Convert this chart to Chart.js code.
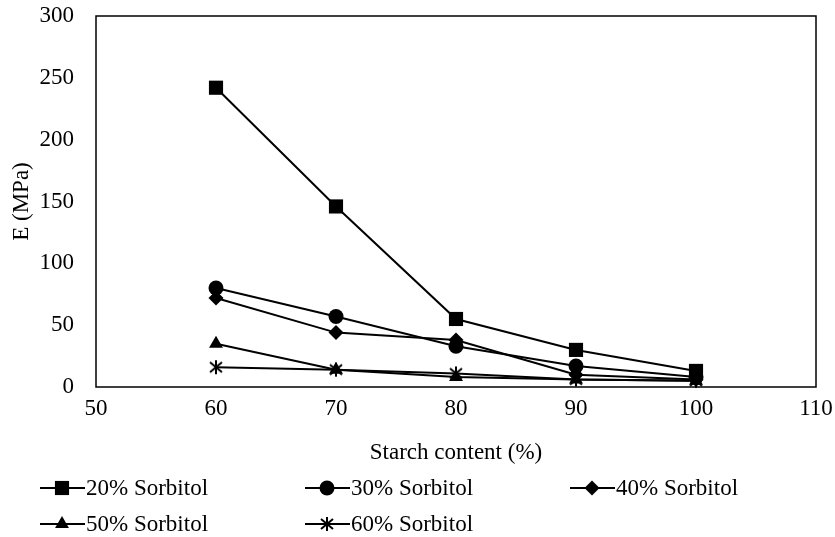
<!DOCTYPE html>
<html>
<head>
<meta charset="utf-8">
<script src="https://cdn.jsdelivr.net/npm/chart.js@4.4.1/dist/chart.umd.min.js"></script>
<style>
  html, body { margin: 0; padding: 0; background: #fff; }
  #wrap { width: 835px; height: 537px; position: relative; }
</style>
</head>
<body>
<div id="wrap"><canvas id="chart"></canvas></div>
<script>
const starch = [60, 70, 80, 90, 100];
const sorb20 = [242, 146, 55, 30, 13];
const sorb30 = [80, 57, 33, 17, 8];
const sorb40 = [72, 44, 38, 10, 6];
const sorb50 = [35, 14, 8, 6, 5];
const sorb60 = [16, 14, 11, 6, 5];
const seriesNames = ["20% Sorbitol", "30% Sorbitol", "40% Sorbitol", "50% Sorbitol", "60% Sorbitol"];

const serif = "'Liberation Serif', 'Times New Roman', serif";
const fontSize = 23;

// excel style asterisk marker: an X with a vertical bar
function makeAsterisk() {
  const c = document.createElement("canvas");
  c.width = 16; c.height = 16;
  const g = c.getContext("2d");
  g.strokeStyle = "#000";
  g.lineWidth = 2;
  g.beginPath();
  g.moveTo(8, 1); g.lineTo(8, 15);
  g.moveTo(2, 3); g.lineTo(14, 13);
  g.moveTo(2, 13); g.lineTo(14, 3);
  g.stroke();
  return c;
}
const asterisk = makeAsterisk();

function pts(vals) {
  return starch.map((x, i) => ({ x: x, y: vals[i] }));
}

const styles = [
  { pointStyle: "rect", radius: 10 },
  { pointStyle: "circle", radius: 7.5 },
  { pointStyle: "rectRot", radius: 7.5 },
  { pointStyle: "triangle", radius: 8 },
  { pointStyle: asterisk, radius: 8 },
];

const allValues = [sorb20, sorb30, sorb40, sorb50, sorb60];
const datasets = allValues.map((vals, i) => ({
  label: seriesNames[i],
  data: pts(vals),
  borderColor: "#000",
  backgroundColor: "#000",
  borderWidth: 2,
  pointStyle: styles[i].pointStyle,
  pointRadius: styles[i].radius,
  pointHoverRadius: styles[i].radius,
  pointBorderWidth: 0,
  pointBackgroundColor: "#000",
  tension: 0,
  clip: false,
}));

const framePlugin = {
  id: "frame",
  beforeDatasetsDraw(chart) {
    const a = chart.chartArea;
    const ctx = chart.ctx;
    ctx.save();
    ctx.strokeStyle = "#000";
    ctx.lineWidth = 1.5;
    ctx.strokeRect(a.left, a.top, a.right - a.left, a.bottom - a.top);
    ctx.restore();
  }
};

const legendPlugin = {
  id: "bottomLegend",
  afterDraw(chart) {
    const ctx = chart.ctx;
    ctx.save();
    ctx.font = fontSize + "px " + serif;
    ctx.textBaseline = "middle";
    ctx.textAlign = "left";
    chart.data.datasets.forEach((ds, i) => {
      const col = i % 3, row = Math.floor(i / 3);
      const x0 = 40 + col * 265;
      const y = 488 + row * 36;
      ctx.strokeStyle = "#000";
      ctx.lineWidth = 2;
      ctx.beginPath();
      ctx.moveTo(x0, y);
      ctx.lineTo(x0 + 45, y);
      ctx.stroke();
      ctx.fillStyle = "#000";
      Chart.helpers.drawPoint(ctx, {
        pointStyle: ds.pointStyle,
        radius: ds.pointRadius,
        rotation: 0,
        borderWidth: 0
      }, x0 + 22, y);
      ctx.fillStyle = "#000";
      ctx.fillText(ds.label, x0 + 46, y + 1);
    });
    ctx.restore();
  }
};

new Chart(document.getElementById("chart"), {
  type: "line",
  data: { datasets: datasets },
  options: {
    responsive: true,
    maintainAspectRatio: false,
    animation: false,
    layout: { padding: { left: 0, top: 16, right: 19, bottom: 70 } },
    plugins: { legend: { display: false }, tooltip: { enabled: false } },
    scales: {
      x: {
        type: "linear",
        min: 50, max: 110,
        grid: { display: false, drawTicks: false },
        border: { display: false },
        ticks: { stepSize: 10, padding: 8, color: "#000", font: { family: serif, size: fontSize } },
        title: { display: true, text: "Starch content (%)", color: "#000", padding: { top: 4, bottom: 0 }, font: { family: serif, size: fontSize } },
        afterFit(scale) {
          scale.height = 80;
          scale.paddingLeft = 0;
          scale.paddingRight = 0;
        }
      },
      y: {
        min: 0, max: 300,
        grid: { display: false, drawTicks: false },
        border: { display: false },
        ticks: { stepSize: 50, padding: 22, color: "#000", font: { family: serif, size: fontSize } },
        title: { display: true, text: "E (MPa)", color: "#000", padding: { top: 8, bottom: 0 }, font: { family: serif, size: fontSize } },
        afterFit(scale) {
          scale.width = 96;
          scale.paddingTop = 0;
          scale.paddingBottom = 0;
        }
      }
    }
  },
  plugins: [framePlugin, legendPlugin]
});
</script>
</body>
</html>
